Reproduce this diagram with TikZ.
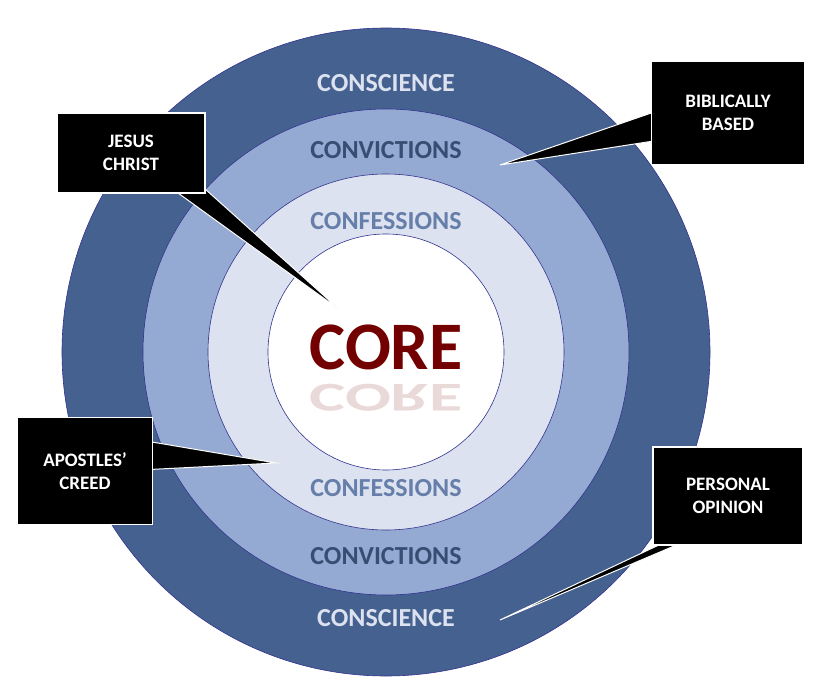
\documentclass[tikz,border=0pt]{standalone}
\usepackage{fontspec}
\setmainfont{Carlito}
\begin{document}
\begin{tikzpicture}[x=1pt,y=-1pt,
  ring/.style={draw=black!40!blue!60!gray, line width=0.6pt},
  lbl/.style={font=\bfseries\fontsize{26}{28}\selectfont},
  cbox/.style={fill=black, draw=white, line width=1.5pt, text=white, align=center, font=\bfseries\fontsize{19}{23}\selectfont, minimum width=#1},
  wedge/.style={fill=black, draw=white, line width=1pt}]
\useasboundingbox (0,0) rectangle (820,680);
\fill[white] (0,0) rectangle (820,680);
\definecolor{c1}{HTML}{45618F}
\definecolor{c2}{HTML}{94AAD2}
\definecolor{c3}{HTML}{DCE2EF}
\coordinate (c) at (386,352);
\draw[ring, fill=c1] (c) circle (324);
\draw[ring, fill=c2] (c) circle (243);
\draw[ring, fill=c3] (c) circle (178);
\draw[ring, fill=white] (c) circle (118);
\node[lbl, text=c3] (t1) at (386,83) {CONSCIENCE};
\node[lbl, text=c1!80!black] (t2) at (386,150) {CONVICTIONS};
\node[lbl, text=c1!60!c2] (t3) at (386,221) {CONFESSIONS};
\node[lbl, text=c1!60!c2] (t4) at (386,488) {CONFESSIONS};
\node[lbl, text=c1!80!black] (t5) at (386,556) {CONVICTIONS};
\node[lbl, text=c3] (t6) at (386,618) {CONSCIENCE};
\node[font=\bfseries\fontsize{68}{70}\selectfont, text=red!45!black] (core) at (386,347) {CORE};
\node[font=\bfseries\fontsize{68}{70}\selectfont, text=red!45!black, opacity=0.15, yscale=-0.6] (refl) at (386,398) {CORE};
% wedges
\coordinate (p1) at (340,310);
\coordinate (p2) at (500,165);
\coordinate (p3) at (276,463);
\coordinate (p4) at (500,620);
\draw[wedge] (160,180) -- (p1) -- (195,180) -- cycle;
\draw[wedge] (660,140) -- (p2) -- (660,110) -- cycle;
\draw[wedge] (140,440) -- (p3) -- (140,470) -- cycle;
\draw[wedge] (680,535) -- (p4) -- (700,535) -- cycle;
\node[cbox=148pt, minimum height=80pt] (jc) at (131,153) {JESUS\\CHRIST};
\node[cbox=153pt, minimum height=103pt] (bb) at (728,113) {BIBLICALLY\\BASED};
\node[cbox=135pt, minimum height=107pt] (ac) at (85,471) {APOSTLES’\\CREED};
\node[cbox=150pt, minimum height=98pt] (po) at (728,496) {PERSONAL\\OPINION};
\end{tikzpicture}
\end{document}
